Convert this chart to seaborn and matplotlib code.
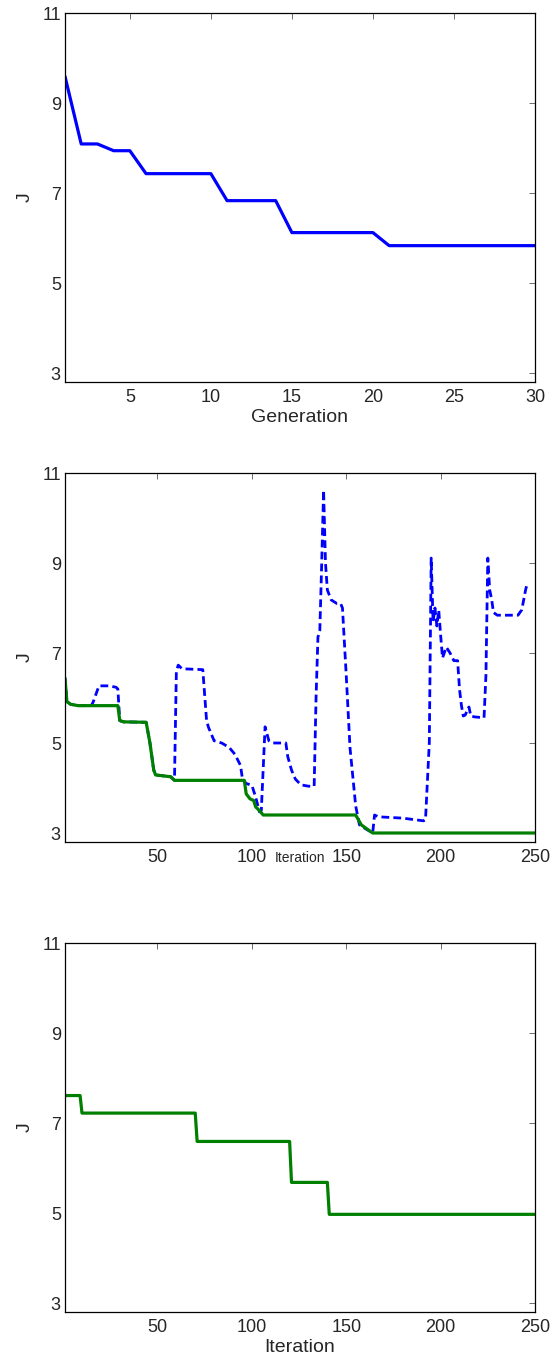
import matplotlib
matplotlib.use("Agg")
import matplotlib.pyplot as plt
import seaborn as sns

# top panel: best J per generation
generation = list(range(1, 31))
j_generation = [9.59, 8.09, 8.09, 7.94, 7.94, 7.43, 7.43, 7.43, 7.43, 7.43,
                6.83, 6.83, 6.83, 6.83, 6.12, 6.12, 6.12, 6.12, 6.12, 6.12,
                5.83, 5.83, 5.83, 5.83, 5.83, 5.83, 5.83, 5.83, 5.83, 5.83]

# middle panel: best-so-far (green) and current (blue dashed), vertices
iter_best = [1, 2, 4, 8, 29, 30, 32, 44, 46, 48, 49, 57, 59, 96, 97, 99, 101,
             102, 104, 106, 155, 158, 164, 250]
j_best = [6.44, 5.92, 5.86, 5.83, 5.83, 5.5, 5.47, 5.46, 5.0, 4.4, 4.29, 4.25,
          4.17, 4.17, 3.87, 3.76, 3.72, 3.58, 3.5, 3.4, 3.4, 3.18, 3.0, 3.0]

iter_current = [1, 2, 4, 8, 15, 16, 19, 24, 28, 29, 30, 32, 44, 46, 48, 49, 57,
                59, 60, 61, 63, 74, 76, 77, 80, 84, 88, 91, 94, 95, 97, 100,
                102, 104, 105, 107, 109, 111, 118, 119, 121, 123, 126, 130, 133,
                134, 135, 136, 137, 138, 139, 140, 142, 145, 147, 148, 150, 152,
                155, 157, 160, 164, 165, 167, 180, 191, 192, 194, 195, 196, 197,
                198, 199, 200, 201, 203, 205, 207, 209, 210, 211, 212, 213, 215,
                216, 218, 223, 224, 225, 226, 227, 228, 230, 241, 243, 245, 246]
j_current = [6.44, 5.92, 5.86, 5.83, 5.83, 5.92, 6.27, 6.27, 6.24, 6.2, 5.5,
             5.47, 5.46, 5.0, 4.4, 4.29, 4.25, 4.17, 6.6, 6.73, 6.65, 6.63, 5.5,
             5.35, 5.05, 5.0, 4.9, 4.75, 4.5, 4.2, 4.1, 4.06, 3.8, 3.47, 3.5,
             5.36, 5.05, 5.0, 5.0, 4.7, 4.4, 4.2, 4.07, 4.04, 4.04, 6.0, 7.35,
             7.5, 9.0, 10.62, 9.0, 8.4, 8.18, 8.1, 8.1, 8.0, 6.5, 4.89, 3.6,
             3.18, 3.1, 3.0, 3.4, 3.36, 3.33, 3.27, 3.3, 5.0, 9.11, 7.7, 8.0,
             7.6, 7.95, 7.4, 6.89, 7.13, 7.0, 6.83, 6.83, 6.2, 5.84, 5.6, 5.62,
             5.8, 5.6, 5.58, 5.56, 6.5, 9.11, 8.4, 8.2, 7.9, 7.84, 7.84, 7.96,
             8.4, 8.56]

# bottom panel: step-wise best J
iter_step = [1, 9, 10, 70, 71, 120, 121, 140, 141, 250]
j_step = [7.61, 7.61, 7.22, 7.22, 6.59, 6.59, 5.68, 5.68, 4.97, 4.97]

y_ticks = [3, 5, 7, 9, 11]
gen_ticks = [5, 10, 15, 20, 25, 30]
iter_ticks = [50, 100, 150, 200, 250]

sns.set_style("white")
plt.rcParams["font.family"] = ["Liberation Sans", "DejaVu Sans"]

fig = plt.figure(figsize=(5.51, 13.61), dpi=100)
left, width, height = 65 / 551, 470 / 551, 369 / 1361
ax1 = fig.add_axes([left, 1 - 382 / 1361, width, height])
ax2 = fig.add_axes([left, 1 - 842 / 1361, width, height])
ax3 = fig.add_axes([left, 1 - 1312 / 1361, width, height])

blue = (0, 0, 1)
green = (0, 0.5, 0)

sns.lineplot(x=generation, y=j_generation, ax=ax1, color=blue, lw=2.3,
             estimator=None, sort=False)
sns.lineplot(x=iter_current, y=j_current, ax=ax2, color=blue, lw=2.0,
             estimator=None, sort=False, linestyle=(0, (2.8, 1.5)))
sns.lineplot(x=iter_best, y=j_best, ax=ax2, color=green, lw=2.3,
             estimator=None, sort=False)
sns.lineplot(x=iter_step, y=j_step, ax=ax3, color=green, lw=2.3,
             estimator=None, sort=False)


def style_axes(ax, xlim, xticks, xlabel, label_size, labelpad):
    ax.set_xlim(*xlim)
    ax.set_ylim(2.8, 11)
    ax.set_xticks(xticks)
    ax.set_yticks(y_ticks)
    ax.tick_params(direction="in", length=4, width=0.6, color="#555555",
                   top=True, right=True, labelsize=13, pad=3)
    ax.tick_params(axis="x", pad=5)
    for sp in ax.spines.values():
        sp.set_color("black")
        sp.set_linewidth(0.9)
    ax.set_xlabel(xlabel, fontsize=label_size, labelpad=labelpad)
    ax.set_ylabel("J", fontsize=14, labelpad=6)


style_axes(ax1, (1, 30), gen_ticks, "Generation", 14, 2)
style_axes(ax2, (1, 250), iter_ticks, "Iteration", 10, -11)
style_axes(ax3, (1, 250), iter_ticks, "Iteration", 14, 2)

fig.savefig("out.png", dpi=100)
